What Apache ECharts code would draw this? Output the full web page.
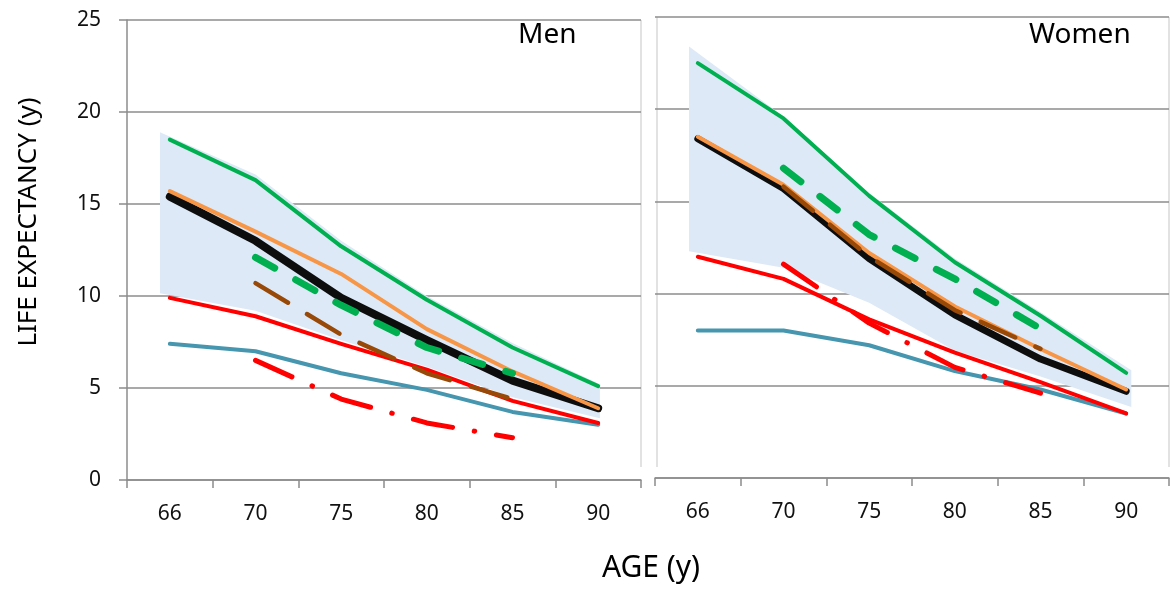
<!DOCTYPE html>
<html>
<head>
<meta charset="utf-8">
<script src="https://cdn.jsdelivr.net/npm/echarts@6/dist/echarts.min.js"></script>
<style>
html,body{margin:0;padding:0;background:#fff;}
#c{width:1171px;height:592px;}
</style>
</head>
<body>
<div id="c"></div>
<script>
// ---- data ----
const ages = ['66', '70', '75', '80', '85', '90'];

const menGreen      = [18.5, 16.3, 12.7, 9.8, 7.2, 5.1];
const menOrange     = [15.7, 13.5, 11.2, 8.2, 5.9, 3.9];
const menBlack      = [15.4, 13.0, 9.9, 7.6, 5.4, 3.9];
const menRed        = [9.9, 8.9, 7.4, 6.0, 4.3, 3.1];
const menTeal       = [7.4, 7.0, 5.8, 4.9, 3.7, 3.0];
const menGreenDash  = [null, 12.1, 9.5, 7.2, 5.8, null];
const menBrownDash  = [null, 10.7, 7.9, 5.8, 4.4, null];
const menRedDashDot = [null, 6.5, 4.4, 3.1, 2.3, null];

const womenGreen      = [22.5, 19.5, 15.3, 11.7, 8.8, 5.7];
const womenOrange     = [18.5, 15.9, 12.2, 9.3, 7.0, 4.8];
const womenBlack      = [18.4, 15.7, 11.9, 8.85, 6.45, 4.7];
const womenRed        = [12.0, 10.8, 8.6, 6.8, 5.2, 3.5];
const womenTeal       = [8.0, 8.0, 7.2, 5.8, 4.8, 3.5];
const womenGreenDash  = [null, 16.8, 13.2, 10.8, 8.1, null];
const womenBrownDash  = [null, 15.8, 12.0, 9.1, 7.0, null];
const womenRedDashDot = [null, 11.6, 8.4, 6.0, 4.6, null];

// shaded band (x in category-index units, so it can start before the first age)
const menBandX      = [-0.115, 1, 2, 3, 4, 5.02];
const menBandTop    = [18.9, 16.6, 13.0, 10.0, 7.45, 5.2];
const menBandBottom = [10.15, 9.2, 7.6, 6.15, 4.5, 3.35];
const womenBandX      = [-0.103, 1, 2, 3, 4, 5.06];
const womenBandTop    = [23.4, 19.6, 15.45, 11.9, 9.0, 5.85];
const womenBandBottom = [12.3, 11.4, 9.5, 6.9, 5.5, 3.85];

// ---- chart ----
const FONT = 'Noto Sans';
const GRID_LINE = '#8c8c8c';

function catAxis(gridIndex) {
  return {
    type: 'category', gridIndex: gridIndex, data: ages, boundaryGap: true,
    axisLine: {show: true, onZero: false, lineStyle: {color: GRID_LINE, width: 1.5}},
    axisTick: {show: true, length: 8, interval: 0, lineStyle: {color: GRID_LINE, width: 1.5}},
    axisLabel: {fontFamily: FONT, fontSize: 21, color: '#111', margin: 24, interval: 0},
    splitLine: {show: false}
  };
}
function valXAxis(gridIndex) {
  return {type: 'value', gridIndex: gridIndex, min: -0.5, max: 5.5, show: false,
          axisLine: {show: false, onZero: false}, splitLine: {show: false}};
}
function yAxis(gridIndex, showLabels) {
  return {
    type: 'value', gridIndex: gridIndex, min: 0, max: 25, interval: 5,
    axisLine: {show: showLabels, onZero: false, lineStyle: {color: GRID_LINE, width: 1.5}},
    axisTick: {show: showLabels, length: 8, lineStyle: {color: GRID_LINE, width: 1.5}},
    axisLabel: {show: showLabels, fontFamily: FONT, fontSize: 21, color: '#111', margin: 26},
    splitLine: {show: true, lineStyle: {color: GRID_LINE, width: 1.5}}
  };
}

function band(xIdx, yIdx, xs, top, bottom) {
  return {
    type: 'custom', xAxisIndex: xIdx, yAxisIndex: yIdx, z: 1, silent: true, clip: false,
    data: xs.map((x, i) => [x, top[i], bottom[i]]),
    encode: {x: 0, y: [1, 2]},
    renderItem: function (params, api) {
      if (params.dataIndex !== 0) return;
      const pts = [];
      for (let i = 0; i < xs.length; i++) pts.push(api.coord([xs[i], top[i]]));
      for (let i = xs.length - 1; i >= 0; i--) pts.push(api.coord([xs[i], bottom[i]]));
      return {type: 'polygon', shape: {points: pts}, style: {fill: '#dde9f6'}};
    }
  };
}

function line(xIdx, yIdx, data, color, width, dash, z) {
  return {
    type: 'line', xAxisIndex: xIdx, yAxisIndex: yIdx, data: data,
    symbol: 'none', z: z, silent: true, connectNulls: false,
    lineStyle: {color: color, width: width, type: dash || 'solid', cap: 'round', join: 'round'}
  };
}

const GREEN = '#00b050', ORANGE = '#f79646', BLACK = '#0d0d0d', RED = '#ff0000',
      TEAL = '#4596ae', BROWN = '#984807';
const DASH_GREEN = [22, 24], DASH_BROWN = [38, 22], DASH_DOT = [40, 22, 0.5, 22];

function panel(cx, y, g, o, b, r, t, gd, bd, rd, blackW) {
  return [
    line(cx, y, t, TEAL, 4, null, 3),
    line(cx, y, r, RED, 4, null, 4),
    line(cx, y, g, GREEN, 4, null, 5),
    line(cx, y, b, BLACK, blackW, null, 6),
    line(cx, y, o, ORANGE, 4, null, 7),
    line(cx, y, bd, BROWN, 4.5, DASH_BROWN, 8),
    line(cx, y, gd, GREEN, 7, DASH_GREEN, 9),
    line(cx, y, rd, RED, 5, DASH_DOT, 10)
  ];
}

const option = {
  animation: false,
  backgroundColor: '#fff',
  grid: [
    {left: 127, top: 20, width: 514, height: 460},
    {left: 655, top: 17, width: 514, height: 461}
  ],
  xAxis: [catAxis(0), catAxis(1), valXAxis(0), valXAxis(1)],
  yAxis: [yAxis(0, true), yAxis(1, false)],
  series: [
    band(2, 0, menBandX, menBandTop, menBandBottom),
    band(3, 1, womenBandX, womenBandTop, womenBandBottom)
  ].concat(
    panel(0, 0, menGreen, menOrange, menBlack, menRed, menTeal, menGreenDash, menBrownDash, menRedDashDot, 8),
    panel(1, 1, womenGreen, womenOrange, womenBlack, womenRed, womenTeal, womenGreenDash, womenBrownDash, womenRedDashDot, 7)
  ),
  graphic: [
    {type: 'line', shape: {x1: 641, y1: 20, x2: 641, y2: 467}, style: {stroke: '#d9d9d9', lineWidth: 1.5}, z: 0},
    {type: 'line', shape: {x1: 657, y1: 17, x2: 657, y2: 467}, style: {stroke: '#d9d9d9', lineWidth: 1.5}, z: 0},
    {type: 'line', shape: {x1: 1169, y1: 17, x2: 1169, y2: 467}, style: {stroke: '#d9d9d9', lineWidth: 1.5}, z: 0},
    {type: 'text', left: 518, top: 21, style: {text: 'Men', font: '28px "Noto Sans"', fill: '#000'}, z: 20},
    {type: 'text', left: 1029, top: 21, style: {text: 'Women', font: '28px "Noto Sans"', fill: '#000'}, z: 20},
    {type: 'text', x: 29, y: 222, rotation: Math.PI / 2,
     style: {text: 'LIFE EXPECTANCY (y)', font: '26px "Noto Sans"', fill: '#000', align: 'center', verticalAlign: 'middle'}, z: 20},
    {type: 'text', x: 651, y: 568,
     style: {text: 'AGE (y)', font: '30px "Noto Sans"', fill: '#000', align: 'center', verticalAlign: 'middle'}, z: 20}
  ]
};

const chart = echarts.init(document.getElementById('c'), null, {renderer: 'canvas'});
chart.setOption(option);
</script>
</body>
</html>
